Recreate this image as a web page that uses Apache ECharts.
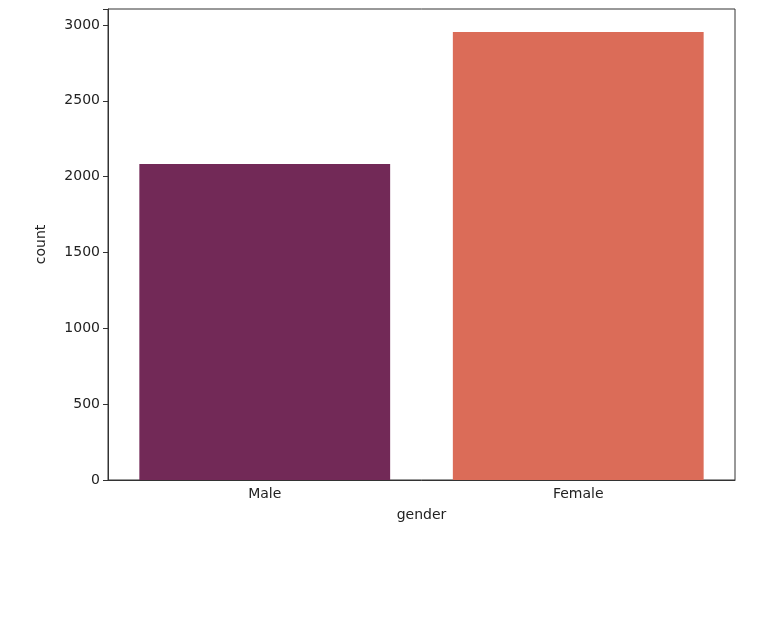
<!DOCTYPE html>
<html><head><meta charset="utf-8">
<script src="https://cdn.jsdelivr.net/npm/echarts@6/dist/echarts.min.js"></script>
<style>html,body{margin:0;background:#fff}#c{width:757px;height:626px}</style>
</head><body><div id="c"></div>
<script>
const categories = ['Male', 'Female'];
const counts = [2083, 2953];
const colors = ['#722957', '#db6c58'];
const yTicks = [0, 500, 1000, 1500, 2000, 2500, 3000];
const chart = echarts.init(document.getElementById('c'));
const font = 'DejaVu Sans';
chart.setOption({
  animation: false,
  grid: {left: 108, right: 22, top: 9, bottom: 146, show: true, borderColor: '#333', borderWidth: 1},
  xAxis: {type: 'category', data: categories, name: 'gender', nameLocation: 'middle', nameGap: 28,
    nameTextStyle: {fontFamily: font, fontSize: 14, color: '#222'},
    axisLine: {lineStyle: {color: '#333'}}, axisTick: {alignWithLabel: true, length: 5, lineStyle: {color: '#333'}},
    axisLabel: {fontFamily: font, fontSize: 14, color: '#222', margin: 7}},
  yAxis: {type: 'value', min: 0, max: 3105, interval: 500, name: 'count', nameLocation: 'middle', nameGap: 60,
    nameTextStyle: {fontFamily: font, fontSize: 14, color: '#222'},
    splitLine: {show: false}, axisLine: {show: true, lineStyle: {color: '#333'}},
    axisTick: {show: true, length: 5, lineStyle: {color: '#333'}},
    axisLabel: {fontFamily: font, fontSize: 14, color: '#222', margin: 8,
      formatter: v => yTicks.includes(v) ? String(v) : ''}},
  series: [{type: 'bar', barWidth: '80%',
    data: counts.map((v, i) => ({value: v, itemStyle: {color: colors[i]}}))}]
});
</script></body></html>
